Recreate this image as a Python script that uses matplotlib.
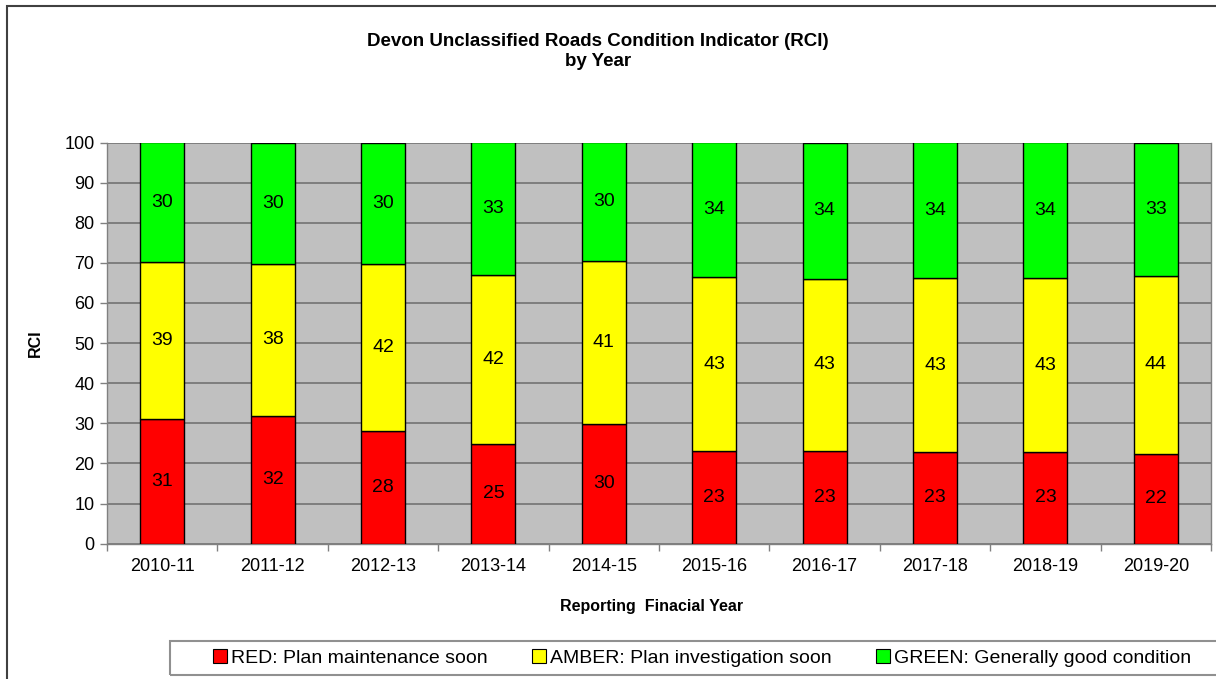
import matplotlib
matplotlib.use("Agg")
import matplotlib.pyplot as plt
from matplotlib.patches import Rectangle, Patch
import numpy as np

years = ["2010-11", "2011-12", "2012-13", "2013-14", "2014-15",
         "2015-16", "2016-17", "2017-18", "2018-19", "2019-20"]
red = [31.0, 31.8, 28.2, 24.8, 29.8, 23.0, 23.0, 22.8, 22.8, 22.4]
amber = [39.2, 38.0, 41.6, 42.2, 40.6, 43.4, 43.1, 43.4, 43.4, 44.3]
green = [29.8, 30.2, 30.2, 33.0, 29.6, 33.6, 33.9, 33.8, 33.8, 33.3]
series_names = ["RED: Plan maintenance soon", "AMBER: Plan investigation soon",
                "GREEN: Generally good condition"]
colors = ["#FF0000", "#FFFF00", "#00FF00"]

plt.rcParams['font.family'] = ['Liberation Sans', 'DejaVu Sans']

W, H = 1216, 679
fig = plt.figure(figsize=(W / 100, H / 100), dpi=100)
fig.patch.set_facecolor("white")

# figure border (left and top visible)
fig.add_artist(Rectangle((7 / W, -0.1), 1.2, 1 - 6 / H + 0.1, transform=fig.transFigure,
                         fill=False, edgecolor="#404040", linewidth=1.5))

ax = fig.add_axes([107 / W, 1 - 543.7 / H, (1211 - 107) / W, (543.7 - 142.5) / H])
ax.set_facecolor("#C0C0C0")

x = np.arange(len(years))
bottom = np.zeros(len(years))
for vals, c in zip([red, amber, green], colors):
    vals = np.array(vals)
    ax.bar(x, vals, width=0.4, bottom=bottom, color=c, edgecolor="black",
           linewidth=1.0, zorder=3)
    for xi, b, v in zip(x, bottom, vals):
        ax.text(xi, b + v / 2, f"{v:.0f}", ha="center", va="center",
                fontsize=14, color="black", zorder=4)
    bottom = bottom + vals

ax.set_xlim(-0.5, len(years) - 0.5)
ax.set_ylim(0, 100)
ax.set_yticks(np.arange(0, 101, 10))
ax.yaxis.grid(True, color="#737373", linewidth=1.2, zorder=1)
ax.set_axisbelow(True)
ax.set_xticks(x)
ax.set_xticklabels(years, fontsize=13)
ax.set_xticks(np.arange(-0.5, len(years), 1.0), minor=True)
ax.tick_params(axis="x", which="major", length=0, pad=10)
ax.tick_params(axis="x", which="minor", length=5, color="#808080", width=1)
ax.tick_params(axis="y", length=5, color="#808080", width=1, labelsize=13, pad=4)
for s in ax.spines.values():
    s.set_color("#808080")
    s.set_linewidth(1.0)
ax.spines["top"].set_visible(False)

fig.text(598 / W, 1 - 41 / H, "Devon Unclassified Roads Condition Indicator (RCI)",
         ha="center", va="center", fontsize=13.5, fontweight="bold")
fig.text(598 / W, 1 - 61 / H, "by Year", ha="center", va="center",
         fontsize=13.5, fontweight="bold")
fig.text(35 / W, 1 - 343 / H, "RCI", rotation=90, ha="center", va="center",
         fontsize=11.5, fontweight="bold")
fig.text(652 / W, 1 - 607 / H, "Reporting  Finacial Year", ha="center", va="center",
         fontsize=11.5, fontweight="bold")

# legend box
fig.add_artist(Rectangle((170 / W, 1 - 675 / H), 1.0, 34 / H, transform=fig.transFigure,
                         fill=False, edgecolor="#909090", linewidth=1.5))
handles = [Patch(facecolor=c, edgecolor="black", linewidth=0.8) for c in colors]
fig.legend(handles, series_names, loc="center", bbox_to_anchor=(702 / W, 1 - 658 / H),
           ncol=3, frameon=False, fontsize=14, handlelength=0.7, handleheight=0.7,
           handletextpad=0.2, columnspacing=2.3)

fig.savefig("out.png", dpi=100)
